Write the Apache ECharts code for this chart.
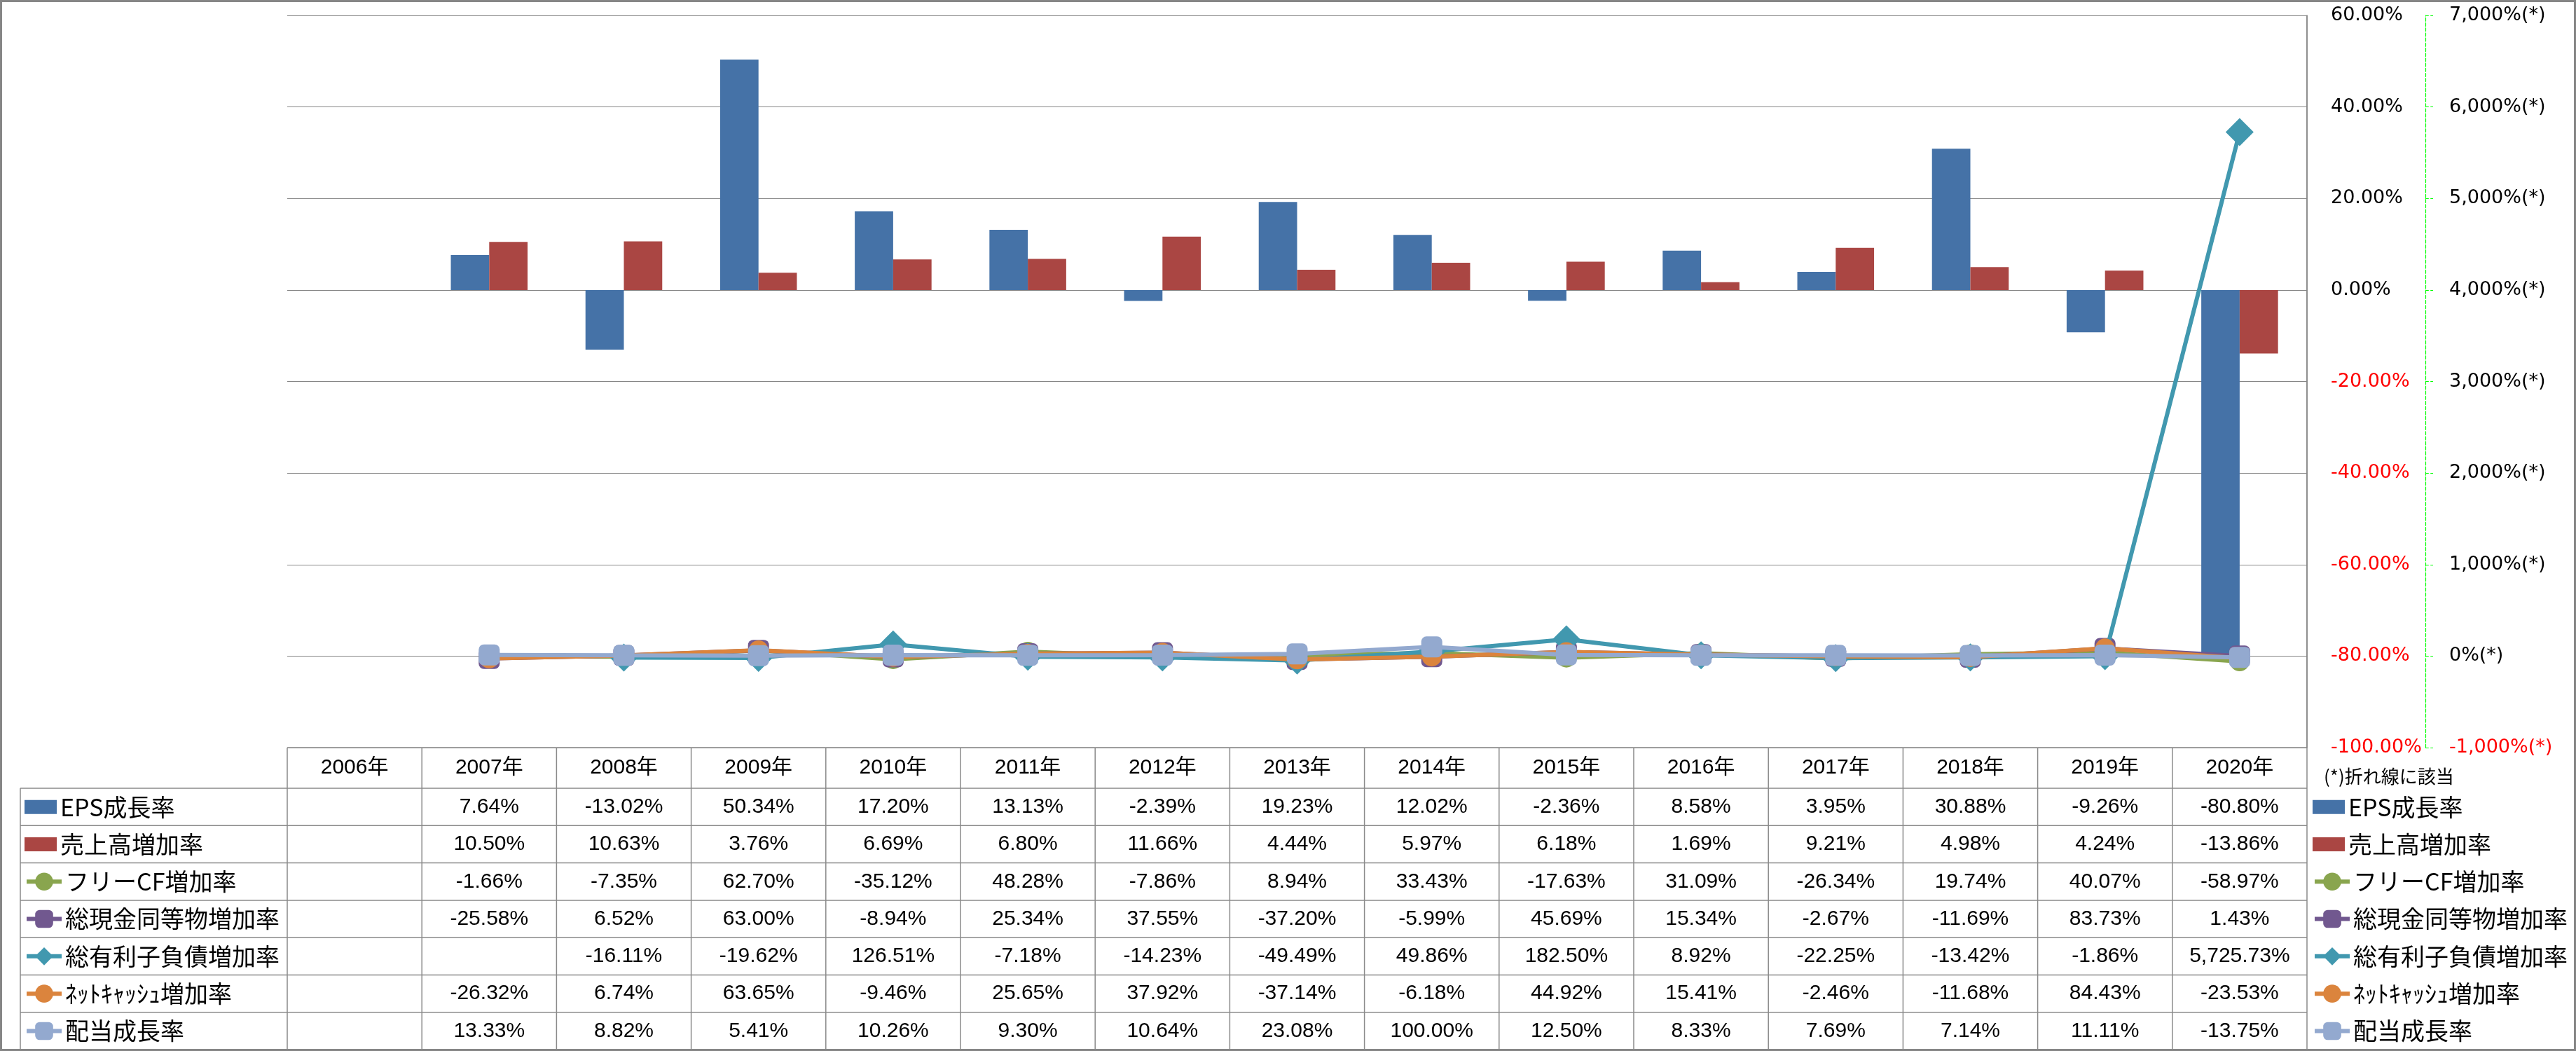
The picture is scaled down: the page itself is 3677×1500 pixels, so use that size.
<!DOCTYPE html>
<html><head><meta charset="utf-8">
<script src="https://cdn.jsdelivr.net/npm/echarts@6/dist/echarts.min.js"></script>
<style>html,body{margin:0;padding:0;background:#fff}#c{width:3677px;height:1500px}</style>
</head><body><div id="c"></div>
<script>
// ---- data ----
const years = ['2006年','2007年','2008年','2009年','2010年','2011年','2012年','2013年','2014年','2015年','2016年','2017年','2018年','2019年','2020年'];
const epsGrowth   = [null, 7.64, -13.02, 50.34, 17.20, 13.13, -2.39, 19.23, 12.02, -2.36, 8.58, 3.95, 30.88, -9.26, -80.80];
const salesGrowth = [null, 10.50, 10.63, 3.76, 6.69, 6.80, 11.66, 4.44, 5.97, 6.18, 1.69, 9.21, 4.98, 4.24, -13.86];
const freeCfGrowth = [null, -1.66, -7.35, 62.70, -35.12, 48.28, -7.86, 8.94, 33.43, -17.63, 31.09, -26.34, 19.74, 40.07, -58.97];
const cashGrowth  = [null, -25.58, 6.52, 63.00, -8.94, 25.34, 37.55, -37.20, -5.99, 45.69, 15.34, -2.67, -11.69, 83.73, 1.43];
const debtGrowth  = [null, null, -16.11, -19.62, 126.51, -7.18, -14.23, -49.49, 49.86, 182.50, 8.92, -22.25, -13.42, -1.86, 5725.73];
const netCashGrowth = [null, -26.32, 6.74, 63.65, -9.46, 25.65, 37.92, -37.14, -6.18, 44.92, 15.41, -2.46, -11.68, 84.43, -23.53];
const dividendGrowth = [null, 13.33, 8.82, 5.41, 10.26, 9.30, 10.64, 23.08, 100.00, 12.50, 8.33, 7.69, 7.14, 11.11, -13.75];
const seriesNames = ['EPS成長率','売上高増加率','フリーCF増加率','総現金同等物増加率','総有利子負債増加率','ﾈｯﾄｷｬｯｼｭ増加率','配当成長率'];
const leftTicks = {min:-100, max:60, step:20};
const rightTicks = {min:-1000, max:7000, step:1000};
const noteText = '(*)折れ線に該当';

const colors = ['#4572A7','#AA4643','#89A54E','#71588F','#4198AF','#DB843D','#93A9CF'];
const allData = [epsGrowth, salesGrowth, freeCfGrowth, cashGrowth, debtGrowth, netCashGrowth, dividendGrowth];
const symbols = [null, null, 'circle', 'roundRect', 'diamond', 'circle', 'roundRect'];
const symSizes = [0, 0, 28, 30, 40, 28, 30];

const chart = echarts.init(document.getElementById('c'), null, {renderer:'canvas'});

function fmtPct(v){
  return v.toLocaleString('en-US',{minimumFractionDigits:2, maximumFractionDigits:2}) + '%';
}
const axisFont = 'DejaVu Sans';
const series = allData.map((d, i) => {
  if (i < 2) {
    return {type:'bar', name:seriesNames[i], data:d, yAxisIndex:0, barGap:'0%', barCategoryGap:'43%',
      itemStyle:{color:colors[i]}, z:2};
  }
  return {type:'line', name:seriesNames[i], data:d, yAxisIndex:1, symbol:symbols[i], symbolSize:symSizes[i],
    lineStyle:{width:6, color:colors[i]}, itemStyle:{color:colors[i]}, z:3 + i};
});

const option = {
  animation:false,
  backgroundColor:'#fff',
  grid:{left:410, right:384, top:22, bottom:433, containLabel:false},
  xAxis:{type:'category', data:years, axisLine:{show:false}, axisTick:{show:false}, axisLabel:{show:false}, splitLine:{show:false}},
  yAxis:[
    {type:'value', position:'right', min:leftTicks.min, max:leftTicks.max, interval:leftTicks.step,
     axisLine:{show:true, lineStyle:{color:'#868686', width:1.5}}, axisTick:{show:false},
     splitLine:{show:true, lineStyle:{color:'#868686', width:1.2}},
     axisLabel:{margin:34, formatter:v => (v < 0 ? '{r|' : '{b|') + v.toFixed(2) + '%}',
       rich:{r:{color:'#ff0000', fontSize:27, fontFamily:axisFont}, b:{color:'#000', fontSize:27, fontFamily:axisFont}}}},
    {type:'value', position:'right', offset:169, min:rightTicks.min, max:rightTicks.max, interval:rightTicks.step,
     axisLine:{show:true, lineStyle:{color:'#00ff00', width:1.2, type:'dashed'}},
     axisTick:{show:true, inside:false, length:11, lineStyle:{color:'#00ff00', width:1.2, type:'dashed'}},
     splitLine:{show:false},
     axisLabel:{margin:34, formatter:v => (v < 0 ? '{r|' : '{b|') + v.toLocaleString('en-US') + '%(*)}',
       rich:{r:{color:'#ff0000', fontSize:27, fontFamily:axisFont}, b:{color:'#000', fontSize:27, fontFamily:axisFont}}}}
  ],
  series:series
};
chart.setOption(option);

// ---- data table drawn with graphic elements, aligned to the category axis ----
const centers = years.map(y => chart.convertToPixel({xAxisIndex:0}, y));
const cw = centers[1] - centers[0];
const tableLeft = centers[0] - cw/2;
const tableRight = centers[centers.length-1] + cw/2;
const tableTop = chart.convertToPixel({yAxisIndex:0}, leftTicks.min);
const headerH = 58, rowH = 53.3;
const labelLeft = 29;
const lineColor = '#8a8a8a';
const g = [];
function hline(x1, x2, y){ g.push({type:'line', shape:{x1:x1, y1:y, x2:x2, y2:y}, style:{stroke:lineColor, lineWidth:1.5}, silent:true}); }
function vline(x, y1, y2){ g.push({type:'line', shape:{x1:x, y1:y1, x2:x, y2:y2}, style:{stroke:lineColor, lineWidth:1.5}, silent:true}); }
function text(x, y, s, size, family, align){
  g.push({type:'text', x:x, y:y, silent:true,
    style:{text:s, fontSize:size, fontFamily:family, fill:'#000', align:align || 'center', verticalAlign:'middle',
      textAlign:align || 'center', textVerticalAlign:'middle'}});
}
const bodyTop = tableTop + headerH;
const tableBottom = bodyTop + rowH * seriesNames.length;
hline(tableLeft, tableRight, tableTop);
for (let r = 0; r <= seriesNames.length; r++) hline(labelLeft, tableRight, bodyTop + r * rowH);
vline(labelLeft, bodyTop, tableBottom);
for (let c = 0; c <= years.length; c++) vline(tableLeft + c * cw, tableTop, tableBottom);
vline(tableRight, chart.convertToPixel({yAxisIndex:0}, leftTicks.max), tableTop);
years.forEach((y, c) => text(centers[c], tableTop + headerH/2, y, 30, 'Liberation Sans, Noto Sans CJK JP'));
allData.forEach((d, r) => {
  d.forEach((v, c) => {
    if (v === null || v === undefined) return;
    text(centers[c], bodyTop + rowH * (r + 0.5), fmtPct(v), 30, 'Liberation Sans');
  });
});
text(3317, tableTop + 41, noteText, 26, 'Noto Sans CJK JP', 'left');
// outer border
g.push({type:'rect', shape:{x:1.5, y:1.5, width:3674, height:1497}, style:{fill:'none', stroke:'#868686', lineWidth:3}, silent:true});

// one legend per table row, on both sides of the table
const legends = [];
[35, 3301].forEach(lx => {
  seriesNames.forEach((n, i) => {
    const isBar = i < 2;
    legends.push({
      orient:'vertical', left:lx, top:bodyTop + rowH * (i + 0.5) - 17, padding:0, selectedMode:false,
      itemWidth:isBar ? 46 : 50, itemHeight:isBar ? 20 : 32, itemGap:0,
      lineStyle:{width:6},
      textStyle:{fontSize:34, fontFamily:'Noto Sans CJK JP', color:'#000', lineHeight:34},
      data:[isBar ? {name:n, icon:'rect'} : {name:n}]
    });
  });
});

chart.setOption({
  legend:legends,
  graphic:{elements:g}
});
</script>
</body></html>
